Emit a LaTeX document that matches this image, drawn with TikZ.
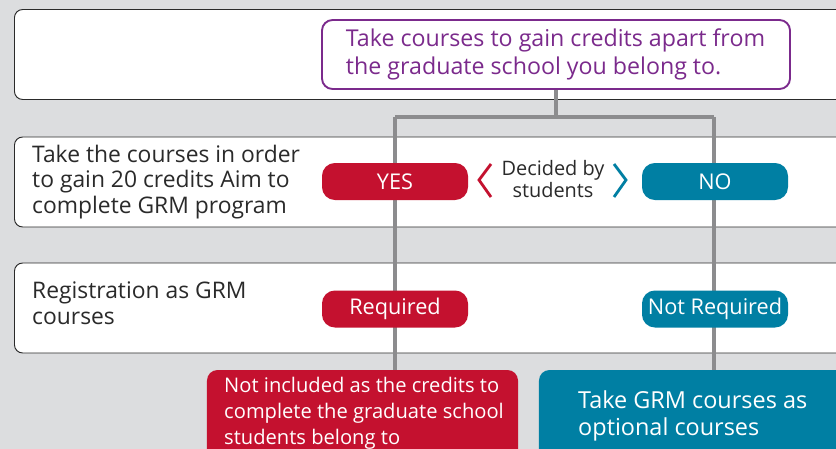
\documentclass[tikz,border=0pt]{standalone}
\usepackage{fontspec}
\setmainfont{Open Sans}
\usetikzlibrary{positioning}
\definecolor{grmred}{HTML}{C4112F}
\definecolor{grmblue}{HTML}{007FA3}
\definecolor{grmpurple}{HTML}{7B2A8C}
\definecolor{grmgray}{HTML}{8C8C8E}
\definecolor{grmbg}{HTML}{DCDDDF}
\definecolor{grmtext}{HTML}{2A2A2A}
\tikzset{
  rowbox/.style={draw=grmtext, fill=white, rounded corners=7pt, line width=0.8pt,
    minimum width=25.4cm, minimum height=2.7cm, anchor=west, inner sep=0pt},
  rowlabel/.style={anchor=west, align=left, text=grmtext, font=\fontsize{19.5}{21.8}\selectfont, inner sep=0pt},
  pill/.style={rounded corners=11pt, minimum width=4.38cm, minimum height=1.11cm,
    text=white, inner sep=0pt, font=\fontsize{18.5}{20}\selectfont},
  yespill/.style={pill, fill=grmred},
  nopill/.style={pill, fill=grmblue},
  link/.style={draw=grmgray, line width=3.4pt},
  chev/.style={line width=2.4pt, line join=miter}
}
\begin{document}
\begin{tikzpicture}[x=0.03cm, y=-0.03cm]
\clip (0,0) rectangle (836,449);
\fill[grmbg] (0,0) rectangle (836,449);

% rows
\node[rowbox] (row1) at (14,54.5) {};
\node[rowbox] (row2) at (14,182) {};
\node[rowbox] (row3) at (14,308) {};
\node[rowlabel] (choice) at (32,182) {Take the courses in order\\to gain 20 credits Aim to\\complete GRM program};
\node[rowlabel] (regist) at (32,303) {Registration as GRM\\courses};

% start
\node[draw=grmpurple, line width=1.6pt, fill=white, rounded corners=9pt,
  minimum width=14.04cm, minimum height=2.07cm, align=left, text=grmpurple,
  font=\fontsize{19.8}{23.2}\selectfont] (start) at (556,54.5)
  {\raisebox{-2pt}{\parbox{12.6cm}{Take courses to gain credits apart from\\the graduate school you belong to.}}};

% results
\node[fill=grmred, rounded corners=9pt, minimum width=9.33cm, minimum height=3.3cm] (notinc) at (362.5,425) {};
\node[fill=grmblue, rounded corners=9pt, minimum width=10.23cm, minimum height=3.3cm] (option) at (709.5,425) {};
\node[anchor=north west, align=left, text=white, inner sep=0pt,
  font=\fontsize{17.2}{22.3}\selectfont] (notinctext) at (224,377)
  {Not included as the credits to\\complete the graduate school\\students belong to};
\node[anchor=west, align=left, text=white, inner sep=0pt,
  font=\fontsize{20}{23.5}\selectfont] (optiontext) at (578,416)
  {Take GRM courses as\\optional courses};

% connectors
\coordinate (fork) at (556,117);
\coordinate (yestop) at (395,117);
\coordinate (notop) at (714,117);
\draw[link] (start.south) -- (fork);
\draw[link] (yestop) -- (notop);
\draw[link] (yestop) -- (yestop |- notinc.north);
\draw[link] (notop) -- (notop |- option.north);

% answers
\node[yespill] (yes) at (395,181.5) {YES};
\node[nopill] (no) at (715,181.5) {NO};
\node[yespill] (req) at (395,309) {Required};
\node[nopill] (noreq) at (715,309) {Not Required};
\node[align=center, text=grmtext, inner sep=0pt,
  font=\fontsize{17}{18}\selectfont] (decide) at (553,179) {Decided by\\students};
\draw[chev, grmred] (491,164) -- (479,180) -- (491,197);
\draw[chev, grmblue] (614,164) -- (626,180) -- (614,197);
\end{tikzpicture}
\end{document}
